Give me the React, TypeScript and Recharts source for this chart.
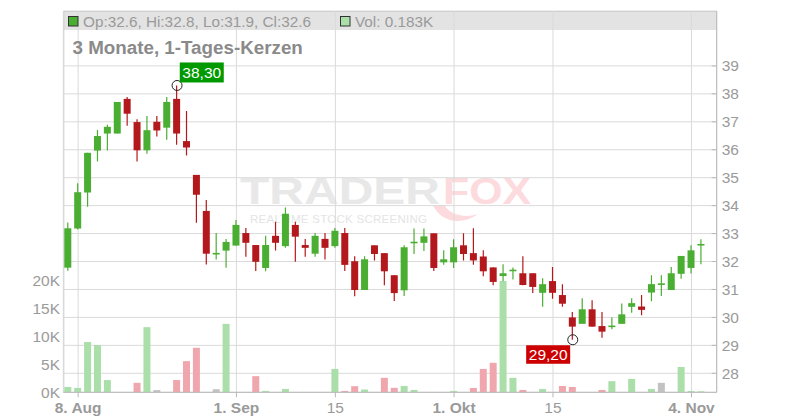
import React from 'react';
import { ComposedChart, Bar, XAxis, YAxis, CartesianGrid, ReferenceDot } from 'recharts';

// ---- data (Aug 7 .. Nov 5, one candle per trading day) ----
const opens = [
  31.78, 33.18, 34.47, 35.97, 36.58, 36.58, 37.82, 36.99, 35.98, 37.0,
  36.79, 37.82, 36.31, 35.1, 33.81, 32.27, 32.39, 32.57, 33.02, 32.59,
  31.77, 32.92, 32.55, 33.31, 32.59, 32.28, 32.81, 32.55, 33.02, 32.01,
  30.98, 32.58, 32.3, 31.51, 30.97, 32.67, 32.67, 33.01, 31.97, 31.97,
  32.58, 32.3, 32.18, 31.79, 31.48, 31.67, 31.58, 31.58, 30.88, 31.3,
  30.8, 30.0, 29.77, 30.29, 29.69, 29.67, 29.77, 30.38, 30.39, 30.89,
  31.18, 30.98, 31.56, 31.77, 32.6,
];
const highs = [
  33.4, 34.8, 35.89, 36.71, 36.89, 37.71, 37.89, 37.09, 37.21, 37.21,
  37.89, 38.3, 37.39, 35.1, 34.2, 33.02, 32.81, 33.49, 33.2, 32.59,
  32.92, 33.42, 33.93, 33.42, 32.81, 33.02, 33.02, 33.2, 33.2, 32.19,
  32.19, 32.58, 32.3, 31.51, 32.58, 33.18, 33.18, 33.01, 32.4, 32.8,
  33.01, 33.19, 32.4, 31.79, 31.9, 31.79, 32.19, 31.58, 31.4, 31.8,
  31.19, 30.19, 30.69, 30.61, 30.19, 30.0, 30.5, 30.69, 30.8, 31.51,
  31.51, 31.8, 32.2, 32.58, 32.8,
];
const lows = [
  31.67, 33.15, 33.96, 35.58, 35.97, 36.58, 36.86, 35.58, 35.86, 36.47,
  36.36, 36.18, 35.79, 33.39, 31.89, 32.07, 31.78, 32.57, 32.17, 31.66,
  31.65, 32.39, 32.49, 31.99, 32.17, 32.17, 32.07, 32.49, 31.66, 30.76,
  30.98, 32.04, 31.15, 30.59, 30.77, 32.27, 32.38, 31.66, 31.88, 31.77,
  32.04, 31.88, 31.47, 31.15, 31.29, 31.36, 31.15, 30.87, 30.38, 30.67,
  30.38, 29.2, 29.77, 29.67, 29.27, 29.58, 29.77, 30.17, 30.08, 30.58,
  30.77, 30.98, 31.38, 31.57, 31.9,
];
const closes = [
  33.19, 34.48, 35.89, 36.49, 36.82, 37.71, 37.29, 35.98, 36.7, 36.69,
  37.71, 36.58, 36.08, 34.39, 32.28, 32.29, 32.7, 33.31, 32.67, 31.99,
  32.59, 32.67, 33.71, 32.89, 32.49, 32.92, 32.49, 33.1, 31.88, 30.98,
  32.08, 32.27, 31.65, 30.87, 32.51, 32.69, 32.9, 31.77, 32.08, 32.51,
  32.27, 32.04, 31.65, 31.27, 31.58, 31.69, 31.16, 31.09, 31.19, 30.88,
  30.49, 29.67, 30.29, 29.67, 29.49, 29.69, 30.11, 30.51, 30.27, 31.19,
  31.2, 31.58, 32.2, 32.4, 32.6,
];
const volumes = [
  960, 780, 9040, 8500, 2200, 0, 0, 1700, 11700, 400,
  0, 2200, 5600, 8000, 0, 550, 12300, 0, 0, 2900,
  250, 0, 600, 0, 0, 0, 0, 4200, 250, 1100,
  500, 0, 2600, 800, 1140, 420, 0, 0, 0, 240,
  0, 780, 4200, 5300, 20000, 2600, 420, 0, 600, 0,
  1140, 960, 0, 0, 420, 2000, 0, 2400, 0, 600,
  1700, 0, 4550, 240, 183,
];
const xTickIndex = [1, 17, 27, 39, 49, 63];
const xTickLabels = ['8. Aug', '1. Sep', '15', '1. Okt', '15', '4. Nov'];
const priceTicks = [28, 29, 30, 31, 32, 33, 34, 35, 36, 37, 38, 39];
const volumeTicks = [0, 5000, 10000, 15000, 20000];
const titleText = '3 Monate, 1-Tages-Kerzen';

// ---- styling ----
const FONT = '"Liberation Sans", Arial, Helvetica, sans-serif';
const GREEN = '#4aae32';
const RED = '#b3191c';
const VOL_GREEN = '#aadfaa';
const VOL_RED = '#f0a6ad';
const VOL_GRAY = '#c2c2c2';
const GRID = '#dadada';
const AXIS = '#b8b8b8';
const LABEL = '#9a9a9a';

const PLOT_LEFT = 63.3;
const PLOT_RIGHT = 716.7;
const PLOT_TOP = 11;
const PLOT_BOTTOM = 392.3;

const data = opens.map((o, i) => {
  const prev = i > 0 ? closes[i - 1] : opens[i];
  const diff = closes[i] - prev;
  const volDir = Math.abs(diff) < 0.03 && i > 0 ? 0 : diff >= 0 ? 1 : -1;
  return {
    i,
    o,
    h: highs[i],
    l: lows[i],
    c: closes[i],
    range: [lows[i], highs[i]],
    v: volumes[i],
    volDir,
  };
});

let maxIdx = 0;
let minIdx = 0;
highs.forEach((h, i) => {
  if (h > highs[maxIdx]) maxIdx = i;
});
lows.forEach((l, i) => {
  if (l < lows[minIdx]) minIdx = i;
});
const fmtDe = (n: number) => n.toFixed(2).replace('.', ',');
const last = data[data.length - 1];
const headerOHLC = `Op:${last.o.toFixed(1)}, Hi:${last.h.toFixed(1)}, Lo:${last.l.toFixed(1)}, Cl:${last.c.toFixed(1)}`;
const headerVol = `Vol: ${(last.v / 1000).toFixed(3)}K`;

const Candle = (props: any) => {
  const { x, y, width, height, index } = props;
  const d = props.payload && props.payload.o !== undefined ? props.payload : data[index];
  const { o, h, l, c } = d;
  const yTop = Math.min(y, y + height);
  const hh = Math.abs(height);
  const span = h - l;
  const py = (p: number) => (span === 0 ? yTop : yTop + ((h - p) / span) * hh);
  const up = c >= o;
  const color = up ? GREEN : RED;
  let bTop = Math.min(py(o), py(c));
  let bH = Math.abs(py(o) - py(c));
  if (bH < 1.6) {
    bTop = bTop - (1.6 - bH) / 2;
    bH = 1.6;
  }
  const cx = x + width / 2;
  return (
    <g>
      <line x1={cx} x2={cx} y1={yTop} y2={yTop + hh} stroke={color} strokeWidth={1.2} />
      <rect x={x} y={bTop} width={width} height={bH} fill={color} />
    </g>
  );
};

const VolBar = (props: any) => {
  const { x, y, width, height, index } = props;
  const d = data[index];
  if (!d || !d.v || !height) return <g />;
  const fill = d.volDir === 0 ? VOL_GRAY : d.volDir > 0 ? VOL_GREEN : VOL_RED;
  return <rect x={x} y={Math.min(y, y + height)} width={width} height={Math.abs(height)} fill={fill} />;
};

const PriceTick = (props: any) => {
  const { x, y, payload } = props;
  return (
    <g>
      <line x1={x - 5} x2={x} y1={y} y2={y} stroke={AXIS} strokeWidth={1} />
      <text x={x + 5} y={y} dy="0.36em" fill={LABEL} fontSize={15.5} fontFamily={FONT} textAnchor="start">
        {payload.value}
      </text>
    </g>
  );
};

const DateTick = (props: any) => {
  const { x, y, payload } = props;
  const k = xTickIndex.indexOf(payload.value);
  const label = k >= 0 ? xTickLabels[k] : '';
  const bold = /[A-Za-z]/.test(label);
  return (
    <text
      x={x}
      y={y}
      dy="0.71em"
      fill={LABEL}
      fontSize={15.5}
      fontFamily={FONT}
      fontWeight={bold ? 'bold' : 'normal'}
      textAnchor="middle"
    >
      {label}
    </text>
  );
};

const HighMarker = (props: any) => {
  const { cx, cy } = props;
  const label = fmtDe(highs[maxIdx]);
  const bx = cx + 2.7;
  const by = cy - 23;
  return (
    <g>
      <circle cx={cx} cy={cy} r={5} fill="none" stroke="#222" strokeWidth={1} />
      <rect x={bx} y={by} width={44} height={20} fill="#009900" />
      <text x={bx + 22} y={by + 15.5} fill="#fff" fontSize={15.5} fontFamily={FONT} textAnchor="middle">
        {label}
      </text>
    </g>
  );
};

const LowMarker = (props: any) => {
  const { cx, cy } = props;
  const label = fmtDe(lows[minIdx]);
  const bx = cx - 2.6 - 44;
  const by = cy + 5.5;
  return (
    <g>
      <circle cx={cx} cy={cy} r={5} fill="none" stroke="#222" strokeWidth={1} />
      <rect x={bx} y={by} width={44} height={18.5} fill="#cc0000" />
      <text x={bx + 22} y={by + 14.5} fill="#fff" fontSize={15.5} fontFamily={FONT} textAnchor="middle">
        {label}
      </text>
    </g>
  );
};

export default function App() {
  return (
    <div style={{ position: 'absolute', left: 0, top: 0, width: 800, height: 420, background: '#fff', overflow: 'hidden' }}>
      {/* background layer: header band, frame, watermark */}
      <svg width={800} height={420} style={{ position: 'absolute', left: 0, top: 0 }}>
        <rect x={PLOT_LEFT} y={PLOT_TOP} width={PLOT_RIGHT - PLOT_LEFT} height={19} fill="#e3e3e3" />
        <line x1={PLOT_LEFT} x2={PLOT_RIGHT} y1={PLOT_TOP + 0.5} y2={PLOT_TOP + 0.5} stroke="#c6c6c6" />
        <line x1={PLOT_LEFT + 0.5} x2={PLOT_LEFT + 0.5} y1={PLOT_TOP} y2={PLOT_BOTTOM} stroke="#c8c8c8" />
        <g fontFamily={FONT} fontWeight="bold">
          <text x={240} y={203.5} fontSize={37} fill="#e8e8e8" textLength={200} lengthAdjust="spacingAndGlyphs">
            TRADER
          </text>
          <text x={443} y={203.5} fontSize={37} fill="#fcdadd" textLength={88} lengthAdjust="spacingAndGlyphs">
            FOX
          </text>
          <path d="M433 205 C440 222, 462 226, 478 214 C466 218, 452 216, 445 206 Z" fill="#fcdadd" />
        </g>
        <text
          x={250}
          y={223}
          fontSize={11.5}
          fill="#e4e4e4"
          fontFamily={FONT}
          textLength={177}
          lengthAdjust="spacing"
        >
          REALTIME STOCK SCREENING
        </text>
      </svg>

      <div style={{ position: 'absolute', left: 0, top: 0 }}>
        <ComposedChart width={800} height={420} data={data} margin={{ top: PLOT_TOP, right: 0, bottom: 0, left: 0 }}>
          <CartesianGrid xAxisId="p" yAxisId="p" stroke={GRID} strokeWidth={1} />
          <XAxis
            xAxisId="p"
            dataKey="i"
            type="number"
            domain={[-0.5, 65.55]}
            allowDataOverflow
            ticks={xTickIndex}
            interval={0}
            height={420 - PLOT_BOTTOM}
            axisLine={{ stroke: AXIS }}
            tickLine={{ stroke: AXIS }}
            tickSize={5}
            tickMargin={4.3}
            tick={<DateTick />}
          />
          <XAxis xAxisId="v" dataKey="i" type="number" domain={[-0.5, 65.55]} allowDataOverflow hide />
          <YAxis
            yAxisId="p"
            orientation="right"
            type="number"
            domain={[27.32, 40.965]}
            allowDataOverflow
            ticks={priceTicks}
            interval={0}
            width={800 - PLOT_RIGHT}
            axisLine={{ stroke: AXIS }}
            tickLine={false}
            tickSize={0}
            tickMargin={0}
            tick={<PriceTick />}
          />
          <YAxis
            yAxisId="v"
            orientation="left"
            type="number"
            domain={[0, 68500]}
            allowDataOverflow
            ticks={volumeTicks}
            interval={0}
            width={PLOT_LEFT}
            axisLine={false}
            tickLine={false}
            tickSize={0}
            tickMargin={3.3}
            tickFormatter={(v: number) => `${v / 1000}K`}
            tick={{ fill: LABEL, fontSize: 15.5, fontFamily: FONT }}
          />
          <Bar xAxisId="v" yAxisId="v" dataKey="v" barSize={7} shape={<VolBar />} isAnimationActive={false} />
          <Bar xAxisId="p" yAxisId="p" dataKey="range" barSize={7} shape={<Candle />} isAnimationActive={false} />
          <ReferenceDot
            xAxisId="p"
            yAxisId="p"
            x={maxIdx}
            y={highs[maxIdx]}
            r={5}
            shape={(p: any) => <HighMarker {...p} />}
          />
          <ReferenceDot
            xAxisId="p"
            yAxisId="p"
            x={minIdx}
            y={lows[minIdx]}
            r={5}
            shape={(p: any) => <LowMarker {...p} />}
          />
        </ComposedChart>
      </div>

      {/* header overlay */}
      <svg width={800} height={60} style={{ position: 'absolute', left: 0, top: 0, pointerEvents: 'none' }}>
        <rect x={68.5} y={16.5} width={9.5} height={9.5} fill={GREEN} stroke="#333" strokeWidth={1} />
        <text x={83} y={26.6} fontSize={15.3} fill={LABEL} fontFamily={FONT}>
          {headerOHLC}
        </text>
        <rect x={340.5} y={16.5} width={9.5} height={9.5} fill={VOL_GREEN} stroke="#333" strokeWidth={1} />
        <text x={355} y={26.6} fontSize={15.3} fill={LABEL} fontFamily={FONT}>
          {headerVol}
        </text>
        <text x={72.5} y={54.3} fontSize={18.8} fontWeight="bold" fill="#8a8a8a" fontFamily={FONT}>
          {titleText}
        </text>
      </svg>
    </div>
  );
}
